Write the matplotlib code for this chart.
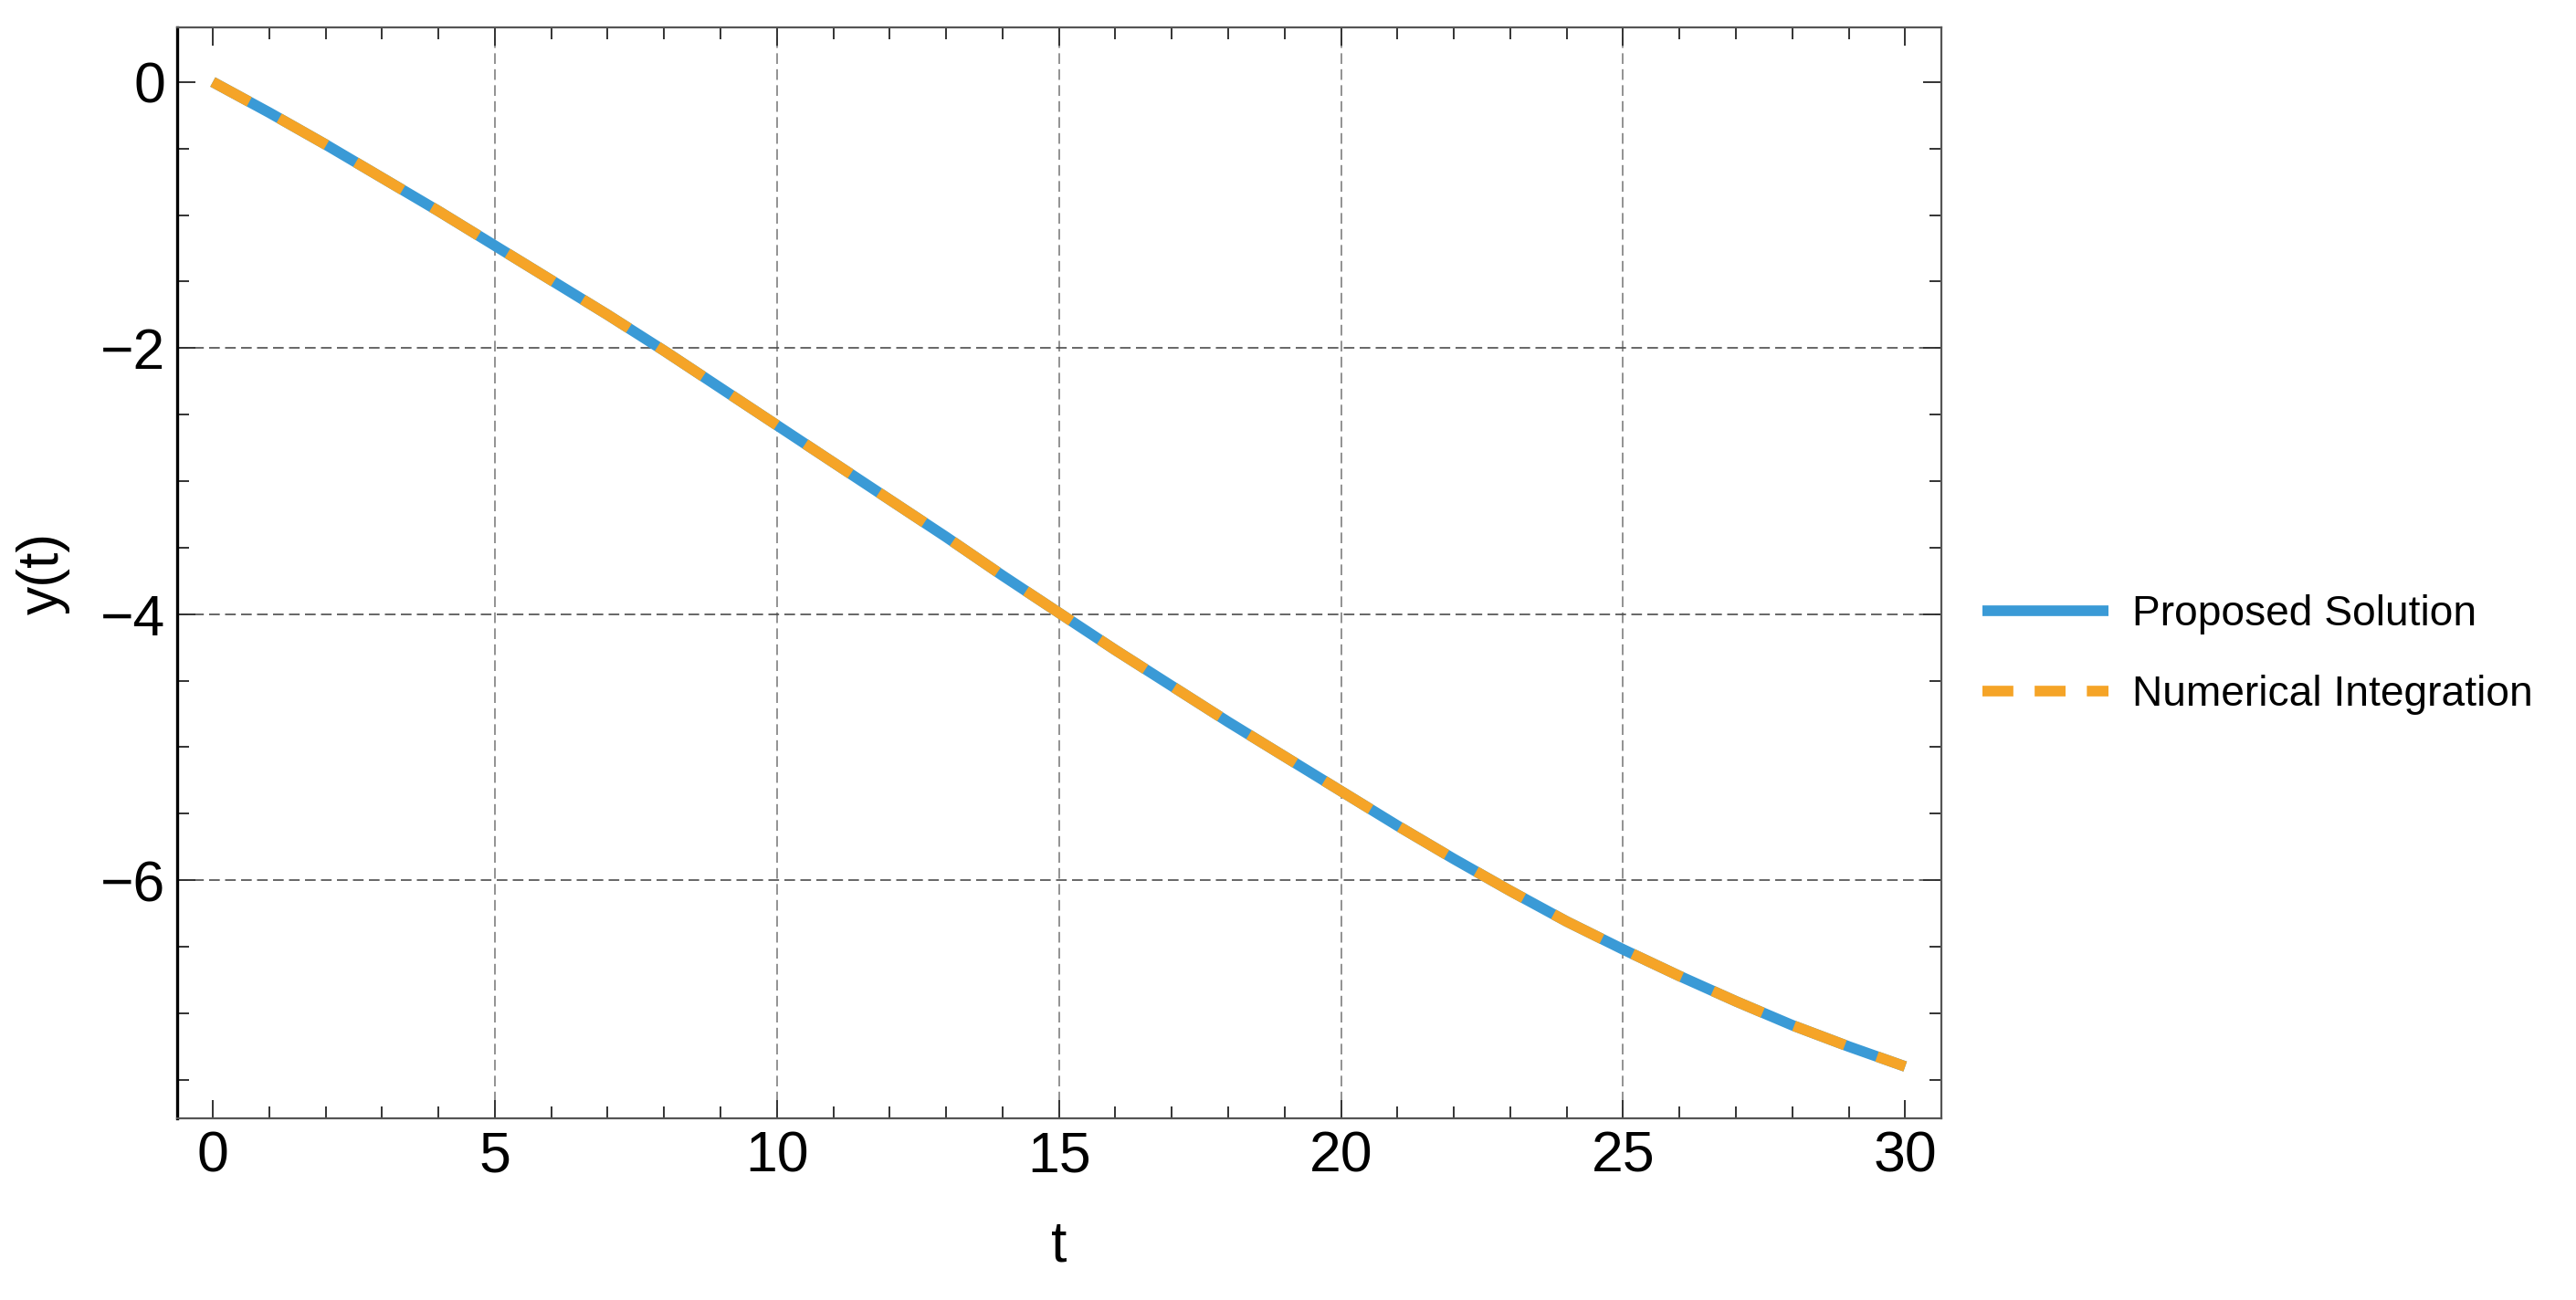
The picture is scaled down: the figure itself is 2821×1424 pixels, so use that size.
import matplotlib.pyplot as plt
from matplotlib.lines import Line2D
from matplotlib.ticker import MultipleLocator

plt.rcParams['font.family'] = ['Liberation Sans', 'DejaVu Sans']

# values
t = [0, 1, 2, 3, 4, 5, 6, 7, 8, 9, 10, 11, 12, 13, 14, 15,
     16, 17, 18, 19, 20, 21, 22, 23, 24, 25, 26, 27, 28, 29, 30]
y_proposed = [0.0, -0.23, -0.47, -0.72, -0.97, -1.23, -1.49, -1.75, -2.02, -2.30,
              -2.58, -2.86, -3.14, -3.42, -3.71, -3.99, -4.27, -4.54, -4.81, -5.07,
              -5.33, -5.59, -5.84, -6.08, -6.31, -6.52, -6.72, -6.91, -7.09, -7.25, -7.40]
y_numeric = list(y_proposed)

x_grid = [5, 10, 15, 20, 25]
y_grid = [-2, -4, -6]
labels = ['Proposed Solution', 'Numerical Integration']

blue = '#3A9AD6'
orange = '#F5A427'

fig = plt.figure(figsize=(14.105, 7.12), dpi=200)
ax = fig.add_axes([0.0688, 0.1397, 0.7536 - 0.0688, 0.9789 - 0.1397])

for gx in x_grid:
    ax.axvline(gx, color='#7f7f7f', lw=0.6, ls=(0, (7, 3.5)), zorder=1)
for gy in y_grid:
    ax.axhline(gy, color='#4d4d4d', lw=0.6, ls=(0, (7, 3.5)), zorder=1)

lw = 4.2
ax.plot(t, y_proposed, color=blue, lw=lw, solid_capstyle='butt', zorder=3)
ax.plot(t, y_numeric, color=orange, lw=lw, ls=(1.2, (5.1, 3.2)),
        dash_capstyle='butt', zorder=4)

ax.set_xlim(-0.63, 30.64)
ax.set_ylim(-7.79, 0.41)
ax.xaxis.set_major_locator(MultipleLocator(5))
ax.xaxis.set_minor_locator(MultipleLocator(1))
ax.yaxis.set_major_locator(MultipleLocator(2))
ax.yaxis.set_minor_locator(MultipleLocator(0.5))

ax.tick_params(which='both', direction='in', top=True, right=True,
               color='#333333', width=0.7)
ax.tick_params(which='major', length=7.2, labelsize=22.5, pad=4.5)
ax.tick_params(which='minor', length=4.7)

for s in ['top', 'right', 'bottom']:
    ax.spines[s].set_color('#555555')
    ax.spines[s].set_linewidth(0.8)
ax.spines['left'].set_color('black')
ax.spines['left'].set_linewidth(1.2)

ax.set_xlabel('t', fontsize=22.5, labelpad=14)
ax.set_ylabel('y(t)', fontsize=22.5, labelpad=12)

handles = [Line2D([], [], color=blue, lw=lw, solid_capstyle='butt'),
           Line2D([], [], color=orange, lw=lw, ls=(0, (2.9, 2.0)), dash_capstyle='butt')]
fig.legend(handles, labels, loc='center left', bbox_to_anchor=(0.7696, 0.4965),
           frameon=False, fontsize=16.6, handlelength=3.0, handletextpad=0.55,
           labelspacing=0.95, borderpad=0, borderaxespad=0)

fig.savefig('out.png', dpi=200)
